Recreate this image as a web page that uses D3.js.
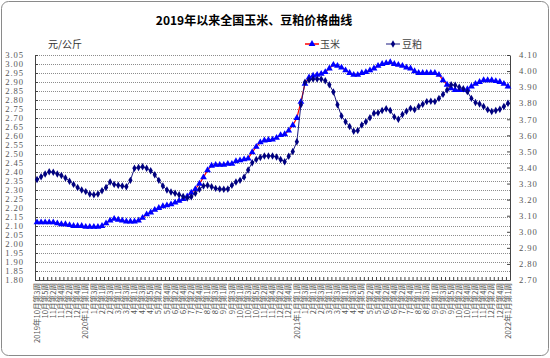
<!DOCTYPE html>
<html><head><meta charset="utf-8">
<script src="https://cdn.jsdelivr.net/npm/d3@7/dist/d3.min.js"></script>
<style>
html,body{margin:0;padding:0;background:#fff;}
svg{display:block;}
</style></head>
<body>
<svg id="c" width="550" height="358"></svg>
<script>
const weekLabels = [
"2019年10月第3周","10月第4周","10月第5周","11月第1周","11月第2周","11月第3周","11月第4周","12月第1周","12月第2周","12月第3周","12月第4周","12月第5周",
"2020年1月第1周","1月第2周","1月第3周","1月第4周","2月第1周","2月第2周","2月第3周","2月第4周","3月第1周","3月第2周","3月第3周","3月第4周",
"4月第1周","4月第2周","4月第3周","4月第4周","4月第5周","5月第1周","5月第2周","5月第3周","5月第4周","6月第1周","6月第2周","6月第3周","6月第4周",
"7月第1周","7月第2周","7月第3周","7月第4周","7月第5周","8月第1周","8月第2周","8月第3周","8月第4周","9月第1周","9月第2周","9月第3周","9月第4周",
"10月第1周","10月第2周","10月第3周","10月第4周","10月第5周","11月第1周","11月第2周","11月第3周","11月第4周","12月第1周","12月第2周","12月第3周","12月第4周","12月第5周",
"2021年1月第1周","1月第2周","1月第3周","1月第4周","2月第1周","2月第2周","2月第3周","2月第4周","3月第1周","3月第2周","3月第3周","3月第4周",
"4月第1周","4月第2周","4月第3周","4月第4周","4月第5周","5月第1周","5月第2周","5月第3周","5月第4周","6月第1周","6月第2周","6月第3周","6月第4周",
"7月第1周","7月第2周","7月第3周","7月第4周","7月第5周","8月第1周","8月第2周","8月第3周","8月第4周","9月第1周","9月第2周","9月第3周","9月第4周","9月第5周",
"10月第1周","10月第2周","10月第3周","10月第4周","11月第1周","11月第2周","11月第3周","11月第4周","12月第1周","12月第2周","12月第3周","12月第4周","12月第5周",
"2022年1月第1周"];

const cornValues = [
2.12,2.12,2.12,2.12,2.12,2.115,2.11,2.11,2.105,2.10,2.10,2.10,2.095,2.095,2.095,2.095,2.10,2.115,2.13,2.14,
2.135,2.13,2.125,2.125,2.125,2.13,2.145,2.165,2.175,2.19,2.20,2.21,2.215,2.22,2.23,2.24,2.25,2.265,2.285,2.305,
2.335,2.37,2.41,2.435,2.44,2.44,2.44,2.445,2.445,2.46,2.465,2.47,2.475,2.51,2.54,2.565,2.575,2.578,2.58,2.59,
2.605,2.61,2.63,2.66,2.70,2.79,2.89,2.925,2.935,2.94,2.945,2.955,2.975,2.995,2.99,2.98,2.965,2.95,2.94,2.94,
2.95,2.955,2.965,2.975,2.99,3.00,3.005,3.01,3.00,2.995,2.99,2.98,2.975,2.96,2.95,2.95,2.95,2.95,2.95,2.94,
2.91,2.885,2.865,2.855,2.855,2.855,2.86,2.875,2.89,2.90,2.91,2.91,2.91,2.905,2.90,2.89,2.875];

const soyValues = [
3.325,3.343,3.36,3.374,3.37,3.36,3.35,3.335,3.315,3.295,3.275,3.26,3.25,3.235,3.23,3.235,3.255,3.275,3.31,3.295,
3.29,3.285,3.28,3.32,3.395,3.40,3.405,3.395,3.38,3.355,3.32,3.285,3.26,3.248,3.24,3.23,3.22,3.21,3.218,3.24,
3.265,3.285,3.29,3.28,3.27,3.266,3.265,3.266,3.29,3.31,3.32,3.34,3.384,3.43,3.45,3.462,3.472,3.472,3.472,3.465,
3.45,3.436,3.47,3.50,3.56,3.79,3.93,3.945,3.95,3.95,3.95,3.94,3.915,3.87,3.79,3.72,3.685,3.655,3.625,3.63,
3.665,3.685,3.71,3.737,3.74,3.755,3.765,3.755,3.715,3.70,3.73,3.75,3.768,3.76,3.78,3.793,3.81,3.812,3.81,3.83,
3.855,3.882,3.915,3.912,3.90,3.89,3.872,3.83,3.805,3.795,3.78,3.76,3.748,3.755,3.762,3.78,3.80];

const leftTicks = [1.80,1.85,1.90,1.95,2.00,2.05,2.10,2.15,2.20,2.25,2.30,2.35,2.40,2.45,2.50,2.55,2.60,2.65,2.70,2.75,2.80,2.85,2.90,2.95,3.00,3.05];
const rightTicks = [2.70,2.80,2.90,3.00,3.10,3.20,3.30,3.40,3.50,3.60,3.70,3.80,3.90,4.00,4.10];

const seriesNames = ["玉米","豆粕"];
const titleText = "2019年以来全国玉米、豆粕价格曲线";
const unitText = "元/公斤";

const svg = d3.select("#c");
const L = 35, R = 510, T = 55, B = 280;
const numFont = "'Liberation Serif','DejaVu Serif',serif";
const cjkFont = "'Noto Sans CJK SC','Noto Sans',sans-serif";

// outer frame
svg.append("rect").attr("x",1.5).attr("y",1.5).attr("width",547).attr("height",354)
  .attr("rx",7).attr("fill","#fff").attr("stroke","#8a8a8a").attr("stroke-width",1);

svg.append("text").attr("x",254).attr("y",25).attr("text-anchor","middle")
  .attr("font-family",cjkFont).attr("font-weight","bold").attr("font-size",12).attr("fill","#000")
  .text(titleText);

svg.append("text").attr("x",48).attr("y",48).attr("font-family",cjkFont).attr("font-size",10)
  .attr("fill","#333").text(unitText);

const x = d3.scaleBand().domain(d3.range(weekLabels.length)).range([L,R]).paddingInner(0).paddingOuter(0);
const cx = i => x(i) + x.bandwidth()/2;
const yL = d3.scaleLinear().domain([1.80,3.05]).range([B,T]);
const yR = d3.scaleLinear().domain([2.70,4.10]).range([B,T]);

// gridlines
const grid = svg.append("g").attr("transform",`translate(${L},0)`)
  .call(d3.axisLeft(yL).tickValues(leftTicks).tickSize(-(R-L)).tickFormat(""));
grid.select(".domain").remove();
grid.selectAll("line").attr("stroke","#8c8c8c").attr("stroke-dasharray","1,1").attr("stroke-width",1);

// left axis
const ga = svg.append("g").attr("transform",`translate(${L},0)`)
  .call(d3.axisLeft(yL).tickValues(leftTicks).tickSizeInner(-3).tickSizeOuter(0).tickPadding(11).tickFormat(d3.format(".2f")));
ga.select(".domain").attr("stroke","#444");
ga.selectAll("line").attr("stroke","#444");
ga.selectAll("text").attr("font-family",numFont).attr("font-size",8.6).attr("fill","#555").attr("letter-spacing","0.9");

// right axis
const gr = svg.append("g").attr("transform",`translate(${R},0)`)
  .call(d3.axisRight(yR).tickValues(rightTicks).tickSizeInner(-3).tickSizeOuter(0).tickPadding(9).tickFormat(d3.format(".2f")));
gr.select(".domain").attr("stroke","#444");
gr.selectAll("line").attr("stroke","#444");
gr.selectAll("text").attr("font-family",numFont).attr("font-size",8.6).attr("fill","#555").attr("letter-spacing","0.9");

// bottom axis
const gb = svg.append("g").attr("transform",`translate(0,${B})`)
  .call(d3.axisBottom(x).tickValues([]).tickSizeOuter(0));
gb.select(".domain").attr("stroke","#444");
const bx = d3.scaleLinear().domain([0,weekLabels.length]).range([L,R]);
const gt = svg.append("g").attr("transform",`translate(0,${B})`)
  .call(d3.axisBottom(bx).tickValues(d3.range(weekLabels.length+1)).tickSize(-3).tickFormat(""));
gt.select(".domain").remove();
gt.selectAll("line").attr("stroke","#444");

// x labels
svg.append("g").selectAll("text").data(weekLabels.map((d,i)=>({d,i})).filter(o=>o.i%2===0))
  .join("text")
  .attr("transform",o=>`translate(${cx(o.i)},283) rotate(-90)`)
  .attr("dy","0.35em").attr("text-anchor","end")
  .attr("font-family",cjkFont).attr("font-size",7.6).attr("fill","#555")
  .text(o=>o.d);

// corn series
const lineL = d3.line().x((d,i)=>cx(i)).y(d=>yL(d));
svg.append("path").datum(cornValues).attr("d",lineL).attr("fill","none").attr("stroke","#ff0000").attr("stroke-width",1.2);
const tri = d3.symbol().type(d3.symbolTriangle).size(20);
svg.append("g").selectAll("path").data(cornValues).join("path")
  .attr("d",tri).attr("transform",(d,i)=>`translate(${cx(i)},${yL(d)})`).attr("fill","#0000ff");

// soy series
const lineR = d3.line().x((d,i)=>cx(i)).y(d=>yR(d));
svg.append("path").datum(soyValues).attr("d",lineR).attr("fill","none").attr("stroke","#1a1a80").attr("stroke-width",1);
const dia = d3.symbol().type(d3.symbolDiamond).size(16);
svg.append("g").selectAll("path").data(soyValues).join("path")
  .attr("d",dia).attr("transform",(d,i)=>`translate(${cx(i)},${yR(d)})`).attr("fill","#000080");

// legend
const leg = svg.append("g");
leg.append("line").attr("x1",305).attr("x2",319).attr("y1",44).attr("y2",44).attr("stroke","#ff0000").attr("stroke-width",1.5);
leg.append("path").attr("d",tri).attr("transform","translate(312,44)").attr("fill","#0000ff");
leg.append("text").attr("x",320).attr("y",48).attr("font-family",cjkFont).attr("font-size",10).attr("fill","#444").text(seriesNames[0]);
leg.append("line").attr("x1",386).attr("x2",400).attr("y1",44).attr("y2",44).attr("stroke","#1a1a80").attr("stroke-width",1);
leg.append("path").attr("d",dia).attr("transform","translate(393,44)").attr("fill","#000080");
leg.append("text").attr("x",402).attr("y",48).attr("font-family",cjkFont).attr("font-size",10).attr("fill","#444").text(seriesNames[1]);
</script>
</body></html>
